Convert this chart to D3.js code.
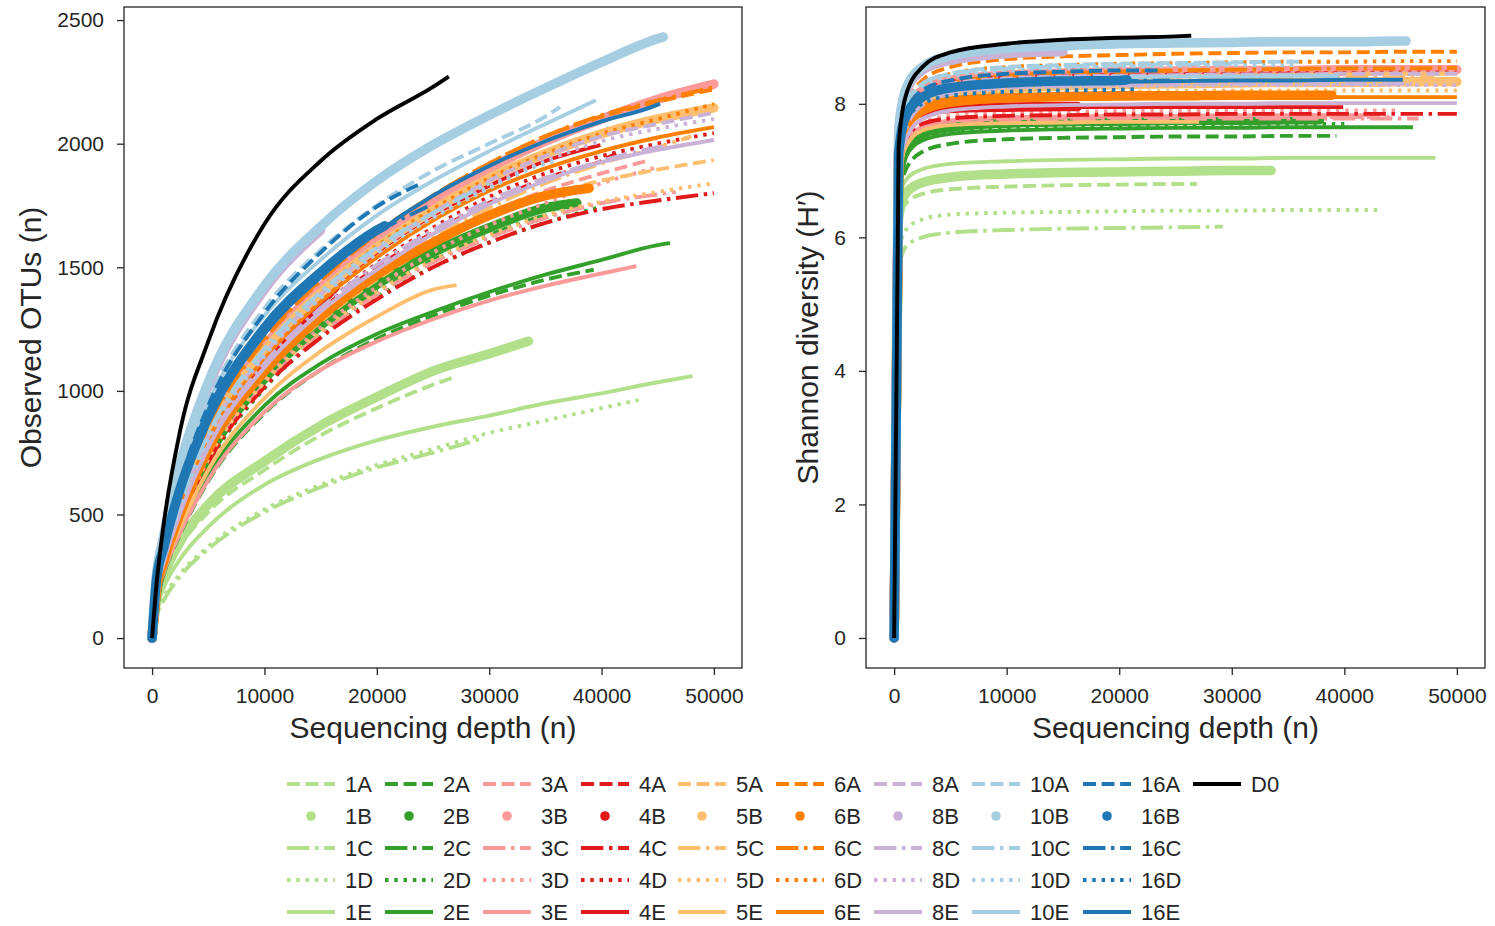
<!DOCTYPE html>
<html>
<head>
<meta charset="utf-8">
<script src="https://cdn.jsdelivr.net/npm/d3@7"></script>
<style>
  body { margin: 0; background: #fff; }
  svg text { font-family: "Liberation Sans", Arial, sans-serif; fill: #262626; }
</style>
</head>
<body>
<svg id="chart" width="1495" height="926"></svg>
<script>
const depthGrid = [0, 400, 1000, 2500, 5000, 10000, 15000, 20000, 25000, 30000, 35000, 40000, 45000, 50000];

const groups = ["1", "2", "3", "4", "5", "6", "8", "10", "16"];
const variants = ["A", "B", "C", "D", "E"];
const groupColors = ["#b2df8a", "#33a02c", "#fb9a99", "#e31a1c", "#fdbf6f", "#ff7f00", "#cab2d6", "#a6cee3", "#1f78b4"];

// last depth of each sample
const sampleDepth = {
  "1A": 26900, "1B": 33500, "1C": 29200, "1D": 43300, "1E": 48100,
  "2A": 39300, "2B": 37800, "2C": 36000, "2D": 40000, "2E": 46100,
  "3A": 44000, "3B": 50000, "3C": 46600, "3D": 45000, "3E": 43100,
  "4A": 41300, "4B": 16300, "4C": 50000, "4D": 50000, "4E": 39900,
  "5A": 50000, "5B": 50000, "5C": 48000, "5D": 50000, "5E": 27100,
  "6A": 50000, "6B": 38900, "6C": 50000, "6D": 50000, "6E": 50000,
  "8A": 50000, "8B": 15000, "8C": 46000, "8D": 50000, "8E": 50000,
  "10A": 36300, "10B": 45500, "10C": 30000, "10D": 36000, "10E": 39500,
  "16A": 23800, "16B": 20700, "16C": 24500, "16D": 21500, "16E": 45200,
  "D0": 26400
};

// observed OTUs at the grid depths below the sample depth, then at the sample depth
const otuValues = {
  "1A": [0, 140, 230, 370, 510, 680, 820, 930, 1025, 1056],
  "1B": [0, 150, 245, 390, 540, 715, 860, 975, 1080, 1150, 1201],
  "1C": [0, 90, 150, 250, 360, 510, 610, 690, 750, 805],
  "1D": [0, 95, 160, 260, 370, 520, 620, 700, 765, 830, 880, 930, 963],
  "1E": [0, 120, 200, 320, 450, 620, 725, 800, 855, 900, 950, 990, 1035, 1060],
  "2A": [0, 160, 255, 420, 635, 910, 1085, 1210, 1305, 1385, 1450, 1490],
  "2B": [0, 185, 290, 485, 735, 1050, 1265, 1430, 1560, 1660, 1740, 1760],
  "2C": [0, 180, 285, 475, 720, 1030, 1240, 1400, 1530, 1630, 1710, 1720],
  "2D": [0, 175, 280, 465, 705, 1010, 1220, 1380, 1500, 1600, 1680, 1745],
  "2E": [0, 170, 270, 440, 660, 940, 1110, 1230, 1320, 1400, 1470, 1530, 1590, 1598],
  "3A": [0, 190, 300, 500, 760, 1080, 1300, 1470, 1610, 1720, 1810, 1880, 1930],
  "3B": [0, 205, 330, 555, 835, 1180, 1420, 1610, 1770, 1900, 2010, 2100, 2180, 2241],
  "3C": [0, 180, 285, 470, 720, 1025, 1230, 1390, 1520, 1620, 1700, 1760, 1795, 1805],
  "3D": [0, 185, 290, 485, 735, 1045, 1255, 1420, 1560, 1670, 1760, 1840, 1905],
  "3E": [0, 165, 260, 425, 640, 915, 1085, 1200, 1290, 1365, 1425, 1475, 1505],
  "4A": [0, 195, 305, 510, 775, 1100, 1325, 1500, 1640, 1760, 1860, 1930, 1960],
  "4B": [0, 200, 315, 525, 795, 1125, 1360, 1420],
  "4C": [0, 175, 280, 465, 710, 1015, 1215, 1370, 1500, 1600, 1680, 1735, 1770, 1800],
  "4D": [0, 195, 305, 510, 780, 1110, 1335, 1515, 1660, 1785, 1880, 1950, 2000, 2043],
  "4E": [0, 200, 315, 525, 800, 1140, 1375, 1560, 1710, 1830, 1930, 1994],
  "5A": [0, 185, 290, 490, 745, 1065, 1280, 1450, 1590, 1700, 1790, 1850, 1895, 1934],
  "5B": [0, 205, 325, 540, 820, 1160, 1395, 1580, 1730, 1860, 1960, 2040, 2100, 2145],
  "5C": [0, 190, 300, 500, 765, 1090, 1310, 1480, 1620, 1740, 1840, 1920, 1985, 2030],
  "5D": [0, 180, 285, 475, 725, 1035, 1240, 1400, 1530, 1630, 1710, 1765, 1805, 1840],
  "5E": [0, 170, 270, 450, 680, 970, 1160, 1300, 1410, 1428],
  "6A": [0, 215, 340, 570, 860, 1215, 1450, 1640, 1790, 1920, 2030, 2110, 2170, 2220],
  "6B": [0, 200, 305, 505, 765, 1080, 1300, 1470, 1600, 1710, 1790, 1820],
  "6C": [0, 210, 335, 565, 850, 1205, 1445, 1635, 1790, 1920, 2030, 2115, 2175, 2228],
  "6D": [0, 205, 325, 545, 825, 1165, 1400, 1585, 1735, 1860, 1960, 2040, 2100, 2160],
  "6E": [0, 200, 315, 525, 800, 1130, 1360, 1540, 1690, 1810, 1900, 1970, 2025, 2067],
  "8A": [0, 200, 320, 535, 815, 1150, 1390, 1570, 1720, 1850, 1950, 2030, 2080, 2125],
  "8B": [0, 250, 400, 700, 1020, 1410, 1650],
  "8C": [0, 195, 305, 510, 780, 1110, 1335, 1510, 1650, 1770, 1860, 1930, 1985, 1990],
  "8D": [0, 200, 315, 530, 805, 1140, 1375, 1555, 1705, 1830, 1930, 2010, 2060, 2100],
  "8E": [0, 190, 300, 505, 770, 1095, 1320, 1490, 1635, 1755, 1850, 1925, 1975, 2015],
  "10A": [0, 235, 375, 650, 960, 1335, 1570, 1750, 1890, 2000, 2110, 2148],
  "10B": [0, 255, 405, 705, 1035, 1425, 1665, 1850, 1995, 2115, 2225, 2330, 2425, 2432],
  "10C": [0, 205, 325, 545, 825, 1170, 1400, 1580, 1720, 1840],
  "10D": [0, 200, 320, 535, 810, 1150, 1380, 1560, 1700, 1820, 1920, 1930],
  "10E": [0, 230, 370, 640, 950, 1305, 1530, 1710, 1850, 1970, 2080, 2176],
  "16A": [0, 230, 365, 630, 940, 1315, 1560, 1745, 1836],
  "16B": [0, 240, 360, 605, 895, 1255, 1480, 1650, 1668],
  "16C": [0, 225, 350, 590, 880, 1240, 1470, 1640, 1745],
  "16D": [0, 230, 355, 595, 885, 1245, 1475, 1645, 1680],
  "16E": [0, 220, 345, 580, 870, 1230, 1460, 1640, 1790, 1910, 2010, 2090, 2158, 2162],
  "D0": [0, 220, 450, 840, 1200, 1675, 1930, 2100, 2230, 2272]
};

// Shannon diversity, same depths
const shannonValues = {
  "1A": [0, 6.2, 6.5, 6.65, 6.72, 6.76, 6.78, 6.79, 6.8, 6.8],
  "1B": [0, 6.3, 6.65, 6.82, 6.9, 6.95, 6.97, 6.98, 6.99, 7.0, 7.0],
  "1C": [0, 5.5, 5.85, 6.0, 6.07, 6.11, 6.13, 6.14, 6.15, 6.16],
  "1D": [0, 5.75, 6.1, 6.27, 6.34, 6.37, 6.38, 6.39, 6.4, 6.4, 6.41, 6.41, 6.41],
  "1E": [0, 6.55, 6.85, 7.02, 7.1, 7.14, 7.16, 7.17, 7.18, 7.18, 7.19, 7.19, 7.19, 7.19],
  "2A": [0, 6.6, 7.0, 7.28, 7.4, 7.47, 7.49, 7.5, 7.51, 7.51, 7.52, 7.52],
  "2B": [0, 6.85, 7.3, 7.55, 7.65, 7.71, 7.73, 7.74, 7.75, 7.75, 7.76, 7.76],
  "2C": [0, 6.8, 7.25, 7.52, 7.63, 7.7, 7.72, 7.73, 7.74, 7.74, 7.75, 7.75],
  "2D": [0, 6.75, 7.2, 7.48, 7.59, 7.65, 7.67, 7.68, 7.69, 7.7, 7.7, 7.7],
  "2E": [0, 6.8, 7.2, 7.45, 7.55, 7.6, 7.62, 7.63, 7.64, 7.64, 7.65, 7.65, 7.65, 7.65],
  "3A": [0, 6.9, 7.4, 7.65, 7.74, 7.78, 7.79, 7.8, 7.8, 7.8, 7.8, 7.8, 7.8],
  "3B": [0, 7.3, 7.85, 8.2, 8.35, 8.43, 8.46, 8.48, 8.49, 8.5, 8.5, 8.51, 8.51, 8.51],
  "3C": [0, 6.85, 7.35, 7.6, 7.7, 7.74, 7.76, 7.77, 7.77, 7.78, 7.78, 7.78, 7.78, 7.78],
  "3D": [0, 6.9, 7.4, 7.7, 7.82, 7.87, 7.88, 7.89, 7.9, 7.9, 7.9, 7.9, 7.9],
  "3E": [0, 6.95, 7.4, 7.66, 7.75, 7.8, 7.81, 7.82, 7.82, 7.83, 7.83, 7.83, 7.83],
  "4A": [0, 7.15, 7.8, 8.18, 8.33, 8.4, 8.42, 8.43, 8.44, 8.44, 8.45, 8.45, 8.45],
  "4B": [0, 7.3, 7.7, 7.88, 7.93, 7.95, 7.96, 7.96],
  "4C": [0, 7.0, 7.45, 7.7, 7.78, 7.82, 7.83, 7.84, 7.84, 7.85, 7.85, 7.85, 7.85, 7.85],
  "4D": [0, 7.2, 7.8, 8.15, 8.3, 8.38, 8.41, 8.43, 8.44, 8.45, 8.46, 8.46, 8.47, 8.47],
  "4E": [0, 7.1, 7.6, 7.85, 7.92, 7.94, 7.95, 7.95, 7.95, 7.95, 7.95, 7.95],
  "5A": [0, 7.0, 7.6, 8.0, 8.2, 8.32, 8.36, 8.39, 8.41, 8.42, 8.43, 8.44, 8.45, 8.45],
  "5B": [0, 7.05, 7.65, 7.98, 8.14, 8.23, 8.27, 8.29, 8.3, 8.31, 8.32, 8.32, 8.33, 8.33],
  "5C": [0, 6.95, 7.55, 7.95, 8.15, 8.28, 8.32, 8.35, 8.37, 8.38, 8.39, 8.4, 8.4, 8.4],
  "5D": [0, 6.95, 7.5, 7.88, 8.04, 8.13, 8.16, 8.18, 8.19, 8.2, 8.2, 8.2, 8.2, 8.2],
  "5E": [0, 6.9, 7.35, 7.6, 7.68, 7.71, 7.72, 7.73, 7.73, 7.73],
  "6A": [0, 7.2, 7.9, 8.35, 8.55, 8.67, 8.71, 8.73, 8.75, 8.76, 8.77, 8.77, 8.78, 8.78],
  "6B": [0, 7.15, 7.65, 7.92, 8.04, 8.09, 8.11, 8.12, 8.12, 8.13, 8.13, 8.13],
  "6C": [0, 7.1, 7.7, 8.1, 8.3, 8.42, 8.46, 8.48, 8.5, 8.51, 8.52, 8.53, 8.53, 8.54],
  "6D": [0, 7.1, 7.8, 8.25, 8.45, 8.55, 8.58, 8.6, 8.61, 8.62, 8.63, 8.63, 8.64, 8.64],
  "6E": [0, 7.0, 7.55, 7.85, 7.98, 8.05, 8.07, 8.08, 8.09, 8.09, 8.1, 8.1, 8.1, 8.1],
  "8A": [0, 7.15, 7.8, 8.15, 8.3, 8.38, 8.41, 8.42, 8.43, 8.44, 8.44, 8.45, 8.45, 8.45],
  "8B": [0, 7.55, 8.15, 8.5, 8.65, 8.75, 8.78],
  "8C": [0, 7.0, 7.6, 7.98, 8.15, 8.24, 8.27, 8.28, 8.29, 8.3, 8.3, 8.3, 8.3, 8.3],
  "8D": [0, 7.05, 7.7, 8.05, 8.18, 8.24, 8.26, 8.27, 8.27, 8.28, 8.28, 8.28, 8.28, 8.28],
  "8E": [0, 6.9, 7.45, 7.77, 7.9, 7.96, 7.98, 7.99, 8.0, 8.0, 8.01, 8.01, 8.01, 8.01],
  "10A": [0, 7.4, 7.95, 8.3, 8.45, 8.55, 8.58, 8.6, 8.61, 8.62, 8.63, 8.63],
  "10B": [0, 7.6, 8.2, 8.55, 8.72, 8.83, 8.87, 8.9, 8.91, 8.92, 8.93, 8.93, 8.94, 8.94],
  "10C": [0, 7.3, 7.9, 8.3, 8.45, 8.53, 8.56, 8.58, 8.59, 8.6],
  "10D": [0, 7.25, 7.85, 8.25, 8.42, 8.5, 8.54, 8.56, 8.57, 8.58, 8.58, 8.58],
  "10E": [0, 7.25, 7.8, 8.12, 8.27, 8.35, 8.38, 8.4, 8.41, 8.41, 8.42, 8.42],
  "16A": [0, 7.3, 7.85, 8.2, 8.35, 8.45, 8.48, 8.5, 8.5],
  "16B": [0, 7.25, 7.8, 8.1, 8.24, 8.31, 8.34, 8.35, 8.36],
  "16C": [0, 7.2, 7.75, 8.08, 8.22, 8.3, 8.33, 8.34, 8.35],
  "16D": [0, 7.15, 7.7, 8.0, 8.12, 8.18, 8.2, 8.21, 8.22],
  "16E": [0, 7.2, 7.75, 8.08, 8.22, 8.29, 8.32, 8.33, 8.34, 8.35, 8.35, 8.36, 8.36, 8.36],
  "D0": [0, 7.35, 8.1, 8.55, 8.77, 8.9, 8.96, 8.99, 9.01, 9.02]
};

const xTicks = [0, 10000, 20000, 30000, 40000, 50000];
const otuTicks = [0, 500, 1000, 1500, 2000, 2500];
const shannonTicks = [0, 2, 4, 6, 8];

// ---- series list in plotting order ----
const series = [];
groups.forEach((g, gi) => {
  variants.forEach(v => series.push({ name: g + v, color: groupColors[gi], variant: v }));
});
series.push({ name: "D0", color: "#000", variant: "E" });

const lw = 3.5;
const styles = {
  A: { dash: `${3.7 * lw},${1.6 * lw}`, width: 3.9, cap: "butt" },
  B: { dash: null, width: 9.5, cap: "round" },
  C: { dash: `${6.4 * lw},${1.6 * lw},${1 * lw},${1.6 * lw}`, width: 3.9, cap: "butt" },
  D: { dash: `${1 * lw},${1.65 * lw}`, width: 3.9, cap: "butt" },
  E: { dash: null, width: 3.9, cap: "butt" }
};

function pointsFor(name, values) {
  const end = sampleDepth[name];
  const depths = depthGrid.filter(d => d < end).concat([end]);
  const vals = values[name];
  return depths.slice(0, vals.length).map((d, i) => [d, vals[i]]);
}

const svg = d3.select("#chart");

const panels = [
  { left: 124, right: 742, values: otuValues, yDomain: [-121, 2553], ticks: otuTicks,
    ylabel: "Observed OTUs (n)", ylabelX: 41 },
  { left: 866, right: 1485, values: shannonValues, yDomain: [-0.45, 9.45], ticks: shannonTicks,
    ylabel: "Shannon diversity (H\u2032)", ylabelX: 818 }
];
const plotTop = 7, plotBottom = 668;

panels.forEach(p => {
  const x = d3.scaleLinear().domain([-2500, 52500]).range([p.left, p.right]);
  const y = d3.scaleLinear().domain(p.yDomain).range([plotBottom, plotTop]);
  const g = svg.append("g");

  const line = d3.line()
    .x(d => x(d[0]))
    .y(d => y(d[1]))
    .curve(d3.curveMonotoneX);

  g.append("g").selectAll("path")
    .data(series)
    .join("path")
    .attr("d", s => line(pointsFor(s.name, p.values)))
    .attr("fill", "none")
    .attr("stroke", s => s.color)
    .attr("stroke-width", s => styles[s.variant].width)
    .attr("stroke-linecap", s => styles[s.variant].cap)
    .attr("stroke-linejoin", "round")
    .attr("stroke-dasharray", s => styles[s.variant].dash);

  // frame
  g.append("rect")
    .attr("x", p.left).attr("y", plotTop)
    .attr("width", p.right - p.left).attr("height", plotBottom - plotTop)
    .attr("fill", "none").attr("stroke", "#262626").attr("stroke-width", 1.3);

  const xAxis = g.append("g")
    .attr("transform", `translate(0,${plotBottom})`)
    .call(d3.axisBottom(x).tickValues(xTicks).tickFormat(d3.format("d")).tickSize(7).tickPadding(13));
  const yAxis = g.append("g")
    .attr("transform", `translate(${p.left},0)`)
    .call(d3.axisLeft(y).tickValues(p.ticks).tickFormat(d3.format("d")).tickSize(7).tickPadding(13));

  [xAxis, yAxis].forEach(a => {
    a.select(".domain").remove();
    a.selectAll(".tick line").attr("stroke", "#262626").attr("stroke-width", 1.3);
    a.selectAll(".tick text").attr("font-size", 21).attr("fill", "#262626")
      .attr("font-family", '"Liberation Sans", Arial, sans-serif');
  });

  g.append("text")
    .attr("x", (p.left + p.right) / 2).attr("y", 738)
    .attr("text-anchor", "middle").attr("font-size", 30)
    .text("Sequencing depth (n)");

  g.append("text")
    .attr("transform", `translate(${p.ylabelX},${(plotTop + plotBottom) / 2}) rotate(-90)`)
    .attr("text-anchor", "middle").attr("font-size", 30)
    .text(p.ylabel);
});

// ---- legend ----
const legendCols = [287, 385, 483, 581, 678, 776, 874, 972, 1083, 1193];
const legendRows = [784, 816, 848, 880, 912];
const legend = svg.append("g");

series.forEach((s, i) => {
  const col = s.name === "D0" ? 9 : Math.floor(i / 5);
  const row = s.name === "D0" ? 0 : i % 5;
  const lx = legendCols[col], ly = legendRows[row];
  const st = styles[s.variant];
  if (s.variant === "B") {
    legend.append("circle").attr("cx", lx + 24).attr("cy", ly).attr("r", 4.8).attr("fill", s.color);
  } else {
    legend.append("line")
      .attr("x1", lx).attr("x2", lx + 48).attr("y1", ly).attr("y2", ly)
      .attr("stroke", s.color).attr("stroke-width", st.width)
      .attr("stroke-dasharray", st.dash);
  }
  legend.append("text")
    .attr("x", lx + 58).attr("y", ly).attr("dy", "0.36em")
    .attr("font-size", 22)
    .text(s.name);
});
</script>
</body>
</html>
